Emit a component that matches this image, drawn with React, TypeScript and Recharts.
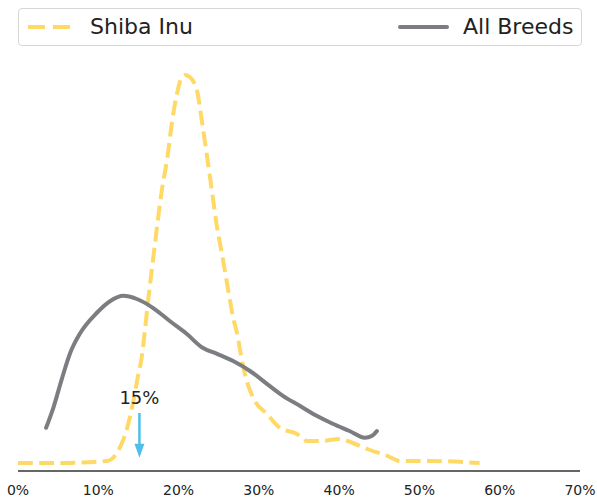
import { LineChart, Line, XAxis, YAxis, ReferenceLine } from 'recharts';

const FONT = '"DejaVu Sans", sans-serif';

const COLORS = {
    shiba: '#ffd966',
    all: '#7b7d81',
    arrow: '#4fbfea',
    text: '#222222',
};

// share of the breed at each value (percent), as a smoothed density
const shibaX = [0, 5.2, 11.1, 12.3, 13.6, 14.3, 14.9, 15.4, 15.8, 16.2, 16.8, 17.3, 17.9, 18.6, 19.2, 19.8, 20.3, 20.8, 21.4, 22.3, 22.9, 23.5, 24.2, 24.8, 25.4, 26.2, 26.8, 27.3, 27.9, 28.5, 29.5, 31.0, 32.6, 34.7, 36.0, 37.6, 40.1, 41.7, 43.5, 46.0, 47.6, 51.3, 57.5];
const shibaY = [0.2, 0.2, 0.25, 0.45, 1.08, 1.68, 2.33, 2.83, 3.5, 4.25, 5.25, 6.08, 7.0, 7.83, 8.75, 9.43, 9.8, 9.9, 9.85, 9.5, 8.75, 7.93, 6.93, 6.08, 5.43, 4.5, 3.83, 3.43, 2.75, 2.25, 1.75, 1.43, 1.08, 0.93, 0.75, 0.75, 0.8, 0.7, 0.55, 0.38, 0.25, 0.25, 0.2];

const allX = [3.5, 4.4, 5.5, 6.5, 7.7, 9.8, 11.5, 13.1, 14.8, 16.8, 18.9, 21.0, 23.0, 24.8, 26.8, 28.9, 31.0, 33.0, 35.1, 37.2, 39.2, 41.3, 43.2, 44.1, 44.7];
const allY = [1.08, 1.58, 2.33, 2.95, 3.43, 3.95, 4.25, 4.38, 4.3, 4.08, 3.75, 3.43, 3.08, 2.93, 2.75, 2.5, 2.18, 1.88, 1.63, 1.38, 1.18, 1.0, 0.83, 0.88, 1.0];

const xTicks = [0, 10, 20, 30, 40, 50, 60, 70];

const markerValue = 15;
const markerLabel = '15%';

const shibaData = shibaX.map((x, i) => ({ x, y: shibaY[i] }));
const allData = allX.map((x, i) => ({ x, y: allY[i] }));

const ArrowShape = (props: any) => {
    const { x1, y1, y2 } = props;
    const x = x1 + 1;
    return (
        <g>
            <text x={x} y={y1 - 9} textAnchor="middle" fontSize={18} fill={COLORS.text} fontFamily={FONT}>
                {markerLabel}
            </text>
            <line x1={x} y1={y1} x2={x} y2={y2 - 12} stroke={COLORS.arrow} strokeWidth={2.5} />
            <polygon points={`${x - 5},${y2 - 14} ${x + 5},${y2 - 14} ${x},${y2}`} fill={COLORS.arrow} />
        </g>
    );
};

export default function App() {
    return (
        <div style={{ position: 'absolute', left: 0, top: 0, width: 597, height: 499, background: '#fff' }}>
            <LineChart width={597} height={499} margin={{ top: 71, right: 17, left: 18, bottom: 3 }}>
                <XAxis
                    dataKey="x"
                    type="number"
                    domain={[0, 70]}
                    ticks={xTicks}
                    tickFormatter={(v: number) => `${v}%`}
                    tick={{ fill: COLORS.text, fontSize: 14, fontFamily: FONT }}
                    tickLine={false}
                    tickSize={6}
                    tickMargin={8}
                    axisLine={{ stroke: '#333', strokeWidth: 1.5 }}
                    height={25}
                    allowDuplicatedCategory={false}
                />
                <YAxis type="number" domain={[0, 10]} hide width={0} />
                <Line
                    data={shibaData}
                    dataKey="y"
                    type="monotone"
                    stroke={COLORS.shiba}
                    strokeWidth={4}
                    strokeDasharray="14.8 6.4"
                    dot={false}
                    activeDot={false}
                    isAnimationActive={false}
                />
                <Line
                    data={allData}
                    dataKey="y"
                    type="monotone"
                    stroke={COLORS.all}
                    strokeWidth={4}
                    strokeLinecap="round"
                    dot={false}
                    activeDot={false}
                    isAnimationActive={false}
                />
                <ReferenceLine
                    segment={[{ x: markerValue, y: 1.45 }, { x: markerValue, y: 0.33 }]}
                    shape={ArrowShape}
                />
            </LineChart>
            <div
                style={{
                    position: 'absolute',
                    left: 18,
                    top: 8,
                    width: 562,
                    height: 36,
                    border: '1px solid #d6d6d6',
                    borderRadius: 4,
                    background: '#fff',
                    fontFamily: FONT,
                    fontSize: 22,
                    color: COLORS.text,
                }}
            >
                <svg width={562} height={36} style={{ position: 'absolute', left: 0, top: 0 }}>
                    <line x1={9} y1={18} x2={52} y2={18} stroke={COLORS.shiba} strokeWidth={4} strokeDasharray="17 8" />
                    <line x1={381} y1={18} x2={428} y2={18} stroke={COLORS.all} strokeWidth={4} strokeLinecap="round" />
                </svg>
                <span style={{ position: 'absolute', left: 71, top: 4, lineHeight: '28px' }}>Shiba Inu</span>
                <span style={{ position: 'absolute', left: 444, top: 4, lineHeight: '28px' }}>All Breeds</span>
            </div>
        </div>
    );
}
